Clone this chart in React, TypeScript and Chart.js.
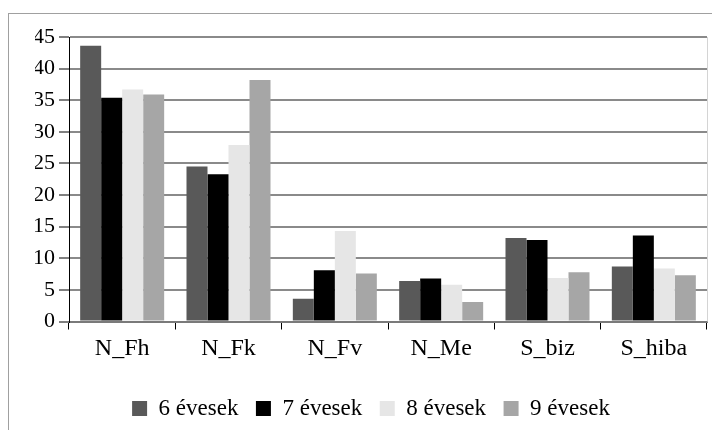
import React, { useEffect, useRef } from "react";
import { Chart, registerables } from "chart.js";

Chart.register(...registerables);

const categories = ["N_Fh", "N_Fk", "N_Fv", "N_Me", "S_biz", "S_hiba"];
const seriesNames = ["6 évesek", "7 évesek", "8 évesek", "9 évesek"];
const s6 = [43.6, 24.5, 3.6, 6.4, 13.2, 8.7];
const s7 = [35.4, 23.3, 8.1, 6.8, 12.9, 13.6];
const s8 = [36.7, 27.9, 14.3, 5.8, 6.9, 8.4];
const s9 = [35.9, 38.2, 7.6, 3.1, 7.8, 7.3];
const seriesColors = ["#595959", "#000000", "#e6e6e6", "#a6a6a6"];
const yMin = 0;
const yMax = 45;
const yStep = 5;

const FONT = "'Liberation Serif', serif";

const rightBorder = {
  id: "rightBorder",
  afterDatasetsDraw(chart: any) {
    const { ctx, chartArea } = chart;
    ctx.save();
    ctx.strokeStyle = "#d4d4d4";
    ctx.lineWidth = 1;
    ctx.beginPath();
    ctx.moveTo(Math.round(chartArea.right) + 0.5, chartArea.top);
    ctx.lineTo(Math.round(chartArea.right) + 0.5, chartArea.bottom);
    ctx.stroke();
    ctx.restore();
  },
};

export default function App() {
  const ref = useRef<HTMLCanvasElement>(null);
  useEffect(() => {
    if (!ref.current) return;
    Chart.defaults.font.family = FONT;
    const allSeries = [s6, s7, s8, s9];
    const chart = new Chart(ref.current, {
      type: "bar",
      data: {
        labels: categories,
        datasets: allSeries.map((d, i) => ({
          label: seriesNames[i],
          data: d,
          backgroundColor: seriesColors[i],
          borderColor: seriesColors[i],
          borderWidth: 0,
          categoryPercentage: 0.79,
          barPercentage: 1.0,
        })),
      },
      options: {
        responsive: false,
        maintainAspectRatio: false,
        animation: false,
        layout: { padding: { top: 23, right: 13, left: 26, bottom: 0 } },
        plugins: {
          tooltip: { enabled: false },
          legend: {
            position: "bottom",
            labels: {
              boxWidth: 15,
              boxHeight: 15,
              padding: 17.5,
              color: "#000",
              font: { family: FONT, size: 23 },
            },
          },
        },
        scales: {
          x: {
            afterFit: (s: any) => {
              s.height = 58;
            },
            grid: {
              offset: true,
              drawOnChartArea: false,
              drawTicks: true,
              tickLength: 8,
              tickColor: "#000",
              color: "#000",
              lineWidth: 1,
            },
            border: { color: "#7a7a7a", width: 2 },
            ticks: {
              color: "#000",
              padding: 5,
              font: { family: FONT, size: 24 },
            },
          },
          y: {
            min: yMin,
            max: yMax,
            afterFit: (s: any) => {
              s.width = 34;
            },
            grid: {
              color: "#8a8a8a",
              lineWidth: 2,
              tickLength: 10,
              tickColor: "#000",
              tickWidth: 1,
            },
            border: { color: "#000", width: 1 },
            ticks: {
              stepSize: yStep,
              color: "#000",
              padding: 4,
              font: { family: FONT, size: 22 },
            },
          },
        },
      },
      plugins: [rightBorder],
    });
    let alive = true;
    const refresh = () => {
      if (alive) chart.update();
    };
    requestAnimationFrame(refresh);
    const fonts: any = (document as any).fonts;
    if (fonts && fonts.ready) fonts.ready.then(refresh).catch(() => {});
    return () => {
      alive = false;
      chart.destroy();
    };
  }, []);

  return (
    <div>
      <span
        aria-hidden="true"
        style={{
          position: "absolute",
          left: 0,
          top: 0,
          opacity: 0,
          pointerEvents: "none",
          fontFamily: "'Liberation Serif'",
          fontSize: 23,
        }}
      >
        N_Fh 45 évesek
      </span>
      <div
        style={{
          marginTop: 5,
          borderTop: "1px solid #a0a0a0",
          borderLeft: "1px solid #a0a0a0",
          width: 711,
          height: 416,
          overflow: "hidden",
        }}
      >
        <canvas ref={ref} width={711} height={416} style={{ display: "block" }} />
      </div>
    </div>
  );
}
